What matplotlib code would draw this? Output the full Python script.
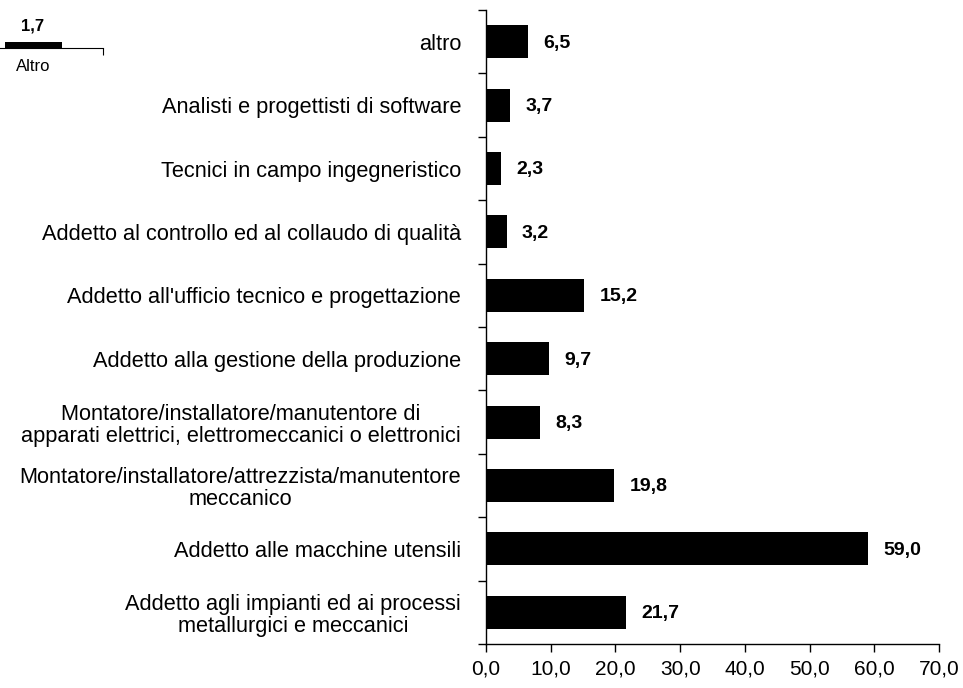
import numpy as np
import matplotlib.pyplot as plt

# categories, top to bottom as in the chart
categories = [
    "altro",
    "Analisti e progettisti di software",
    "Tecnici in campo ingegneristico",
    "Addetto al controllo ed al collaudo di qualità",
    "Addetto all'ufficio tecnico e progettazione",
    "Addetto alla gestione della produzione",
    "Montatore/installatore/manutentore di\napparati elettrici, elettromeccanici o elettronici",
    "Montatore/installatore/attrezzista/manutentore\nmeccanico",
    "Addetto alle macchine utensili",
    "Addetto agli impianti ed ai processi\nmetallurgici e meccanici",
]
values = [6.5, 3.7, 2.3, 3.2, 15.2, 9.7, 8.3, 19.8, 59.0, 21.7]
x_ticks = [0, 10, 20, 30, 40, 50, 60, 70]

# leftover fragment of another chart, top-left
frag_cats = ["Altro"]
frag_vals = [1.7]

plt.rcParams['font.family'] = ['Liberation Sans', 'DejaVu Sans']

def fmt(v, nd=1):
    return f"{v:.{nd}f}".replace(".", ",")

fig = plt.figure(figsize=(9.63, 6.88), dpi=100)
ax = fig.add_axes([486 / 963, 1 - 644 / 688, 453 / 963, 634 / 688])

n = len(categories)
y = np.arange(n)
bars = ax.barh(y, values, height=0.52, color='black')
ax.set_ylim(n - 0.5, -0.5)
ax.set_xlim(0, 70)

ax.set_yticks(y)
ax.set_yticklabels(categories, fontsize=15.7, multialignment='center',
                   linespacing=1.08)
ax.set_yticks(np.arange(n + 1) - 0.5, minor=True)
ax.tick_params(axis='y', which='major', length=0, pad=18)
ax.tick_params(axis='y', which='minor', length=6, width=1, direction='out')

ax.set_xticks(x_ticks)
ax.set_xticklabels([fmt(t) for t in x_ticks], fontsize=15)
ax.tick_params(axis='x', length=6, width=1, direction='out', pad=5)

for s in ['top', 'right']:
    ax.spines[s].set_visible(False)
for s in ['left', 'bottom']:
    ax.spines[s].set_linewidth(1)

for b, v in zip(bars, values):
    ax.annotate(fmt(v), (b.get_width(), b.get_y() + b.get_height() / 2),
                xytext=(11, -1), textcoords='offset points',
                ha='left', va='center', fontsize=14, fontweight='bold')

# fragment axes
ax2 = fig.add_axes([0, 1 - 48 / 688, 103 / 963, 48 / 688])
ax2.bar(np.arange(len(frag_cats)), frag_vals, width=0.57, color='black')
ax2.set_xlim(-0.33, 0.70)
ax2.set_ylim(0, 13.6)
for s in ['top', 'right', 'left']:
    ax2.spines[s].set_visible(False)
ax2.spines['bottom'].set_linewidth(0.8)
ax2.set_yticks([])
ax2.set_xticks([0])
ax2.set_xticklabels(frag_cats, fontsize=12)
ax2.tick_params(axis='x', which='major', length=0, pad=8)
ax2.set_xticks([0.70], minor=True)
ax2.tick_params(axis='x', which='minor', length=5, width=0.8)
for i, v in enumerate(frag_vals):
    ax2.text(i, v + 4.5, fmt(v), ha='center', va='center', fontsize=12, fontweight='bold')
ax2.patch.set_visible(False)

fig.savefig("out.png", dpi=100)
